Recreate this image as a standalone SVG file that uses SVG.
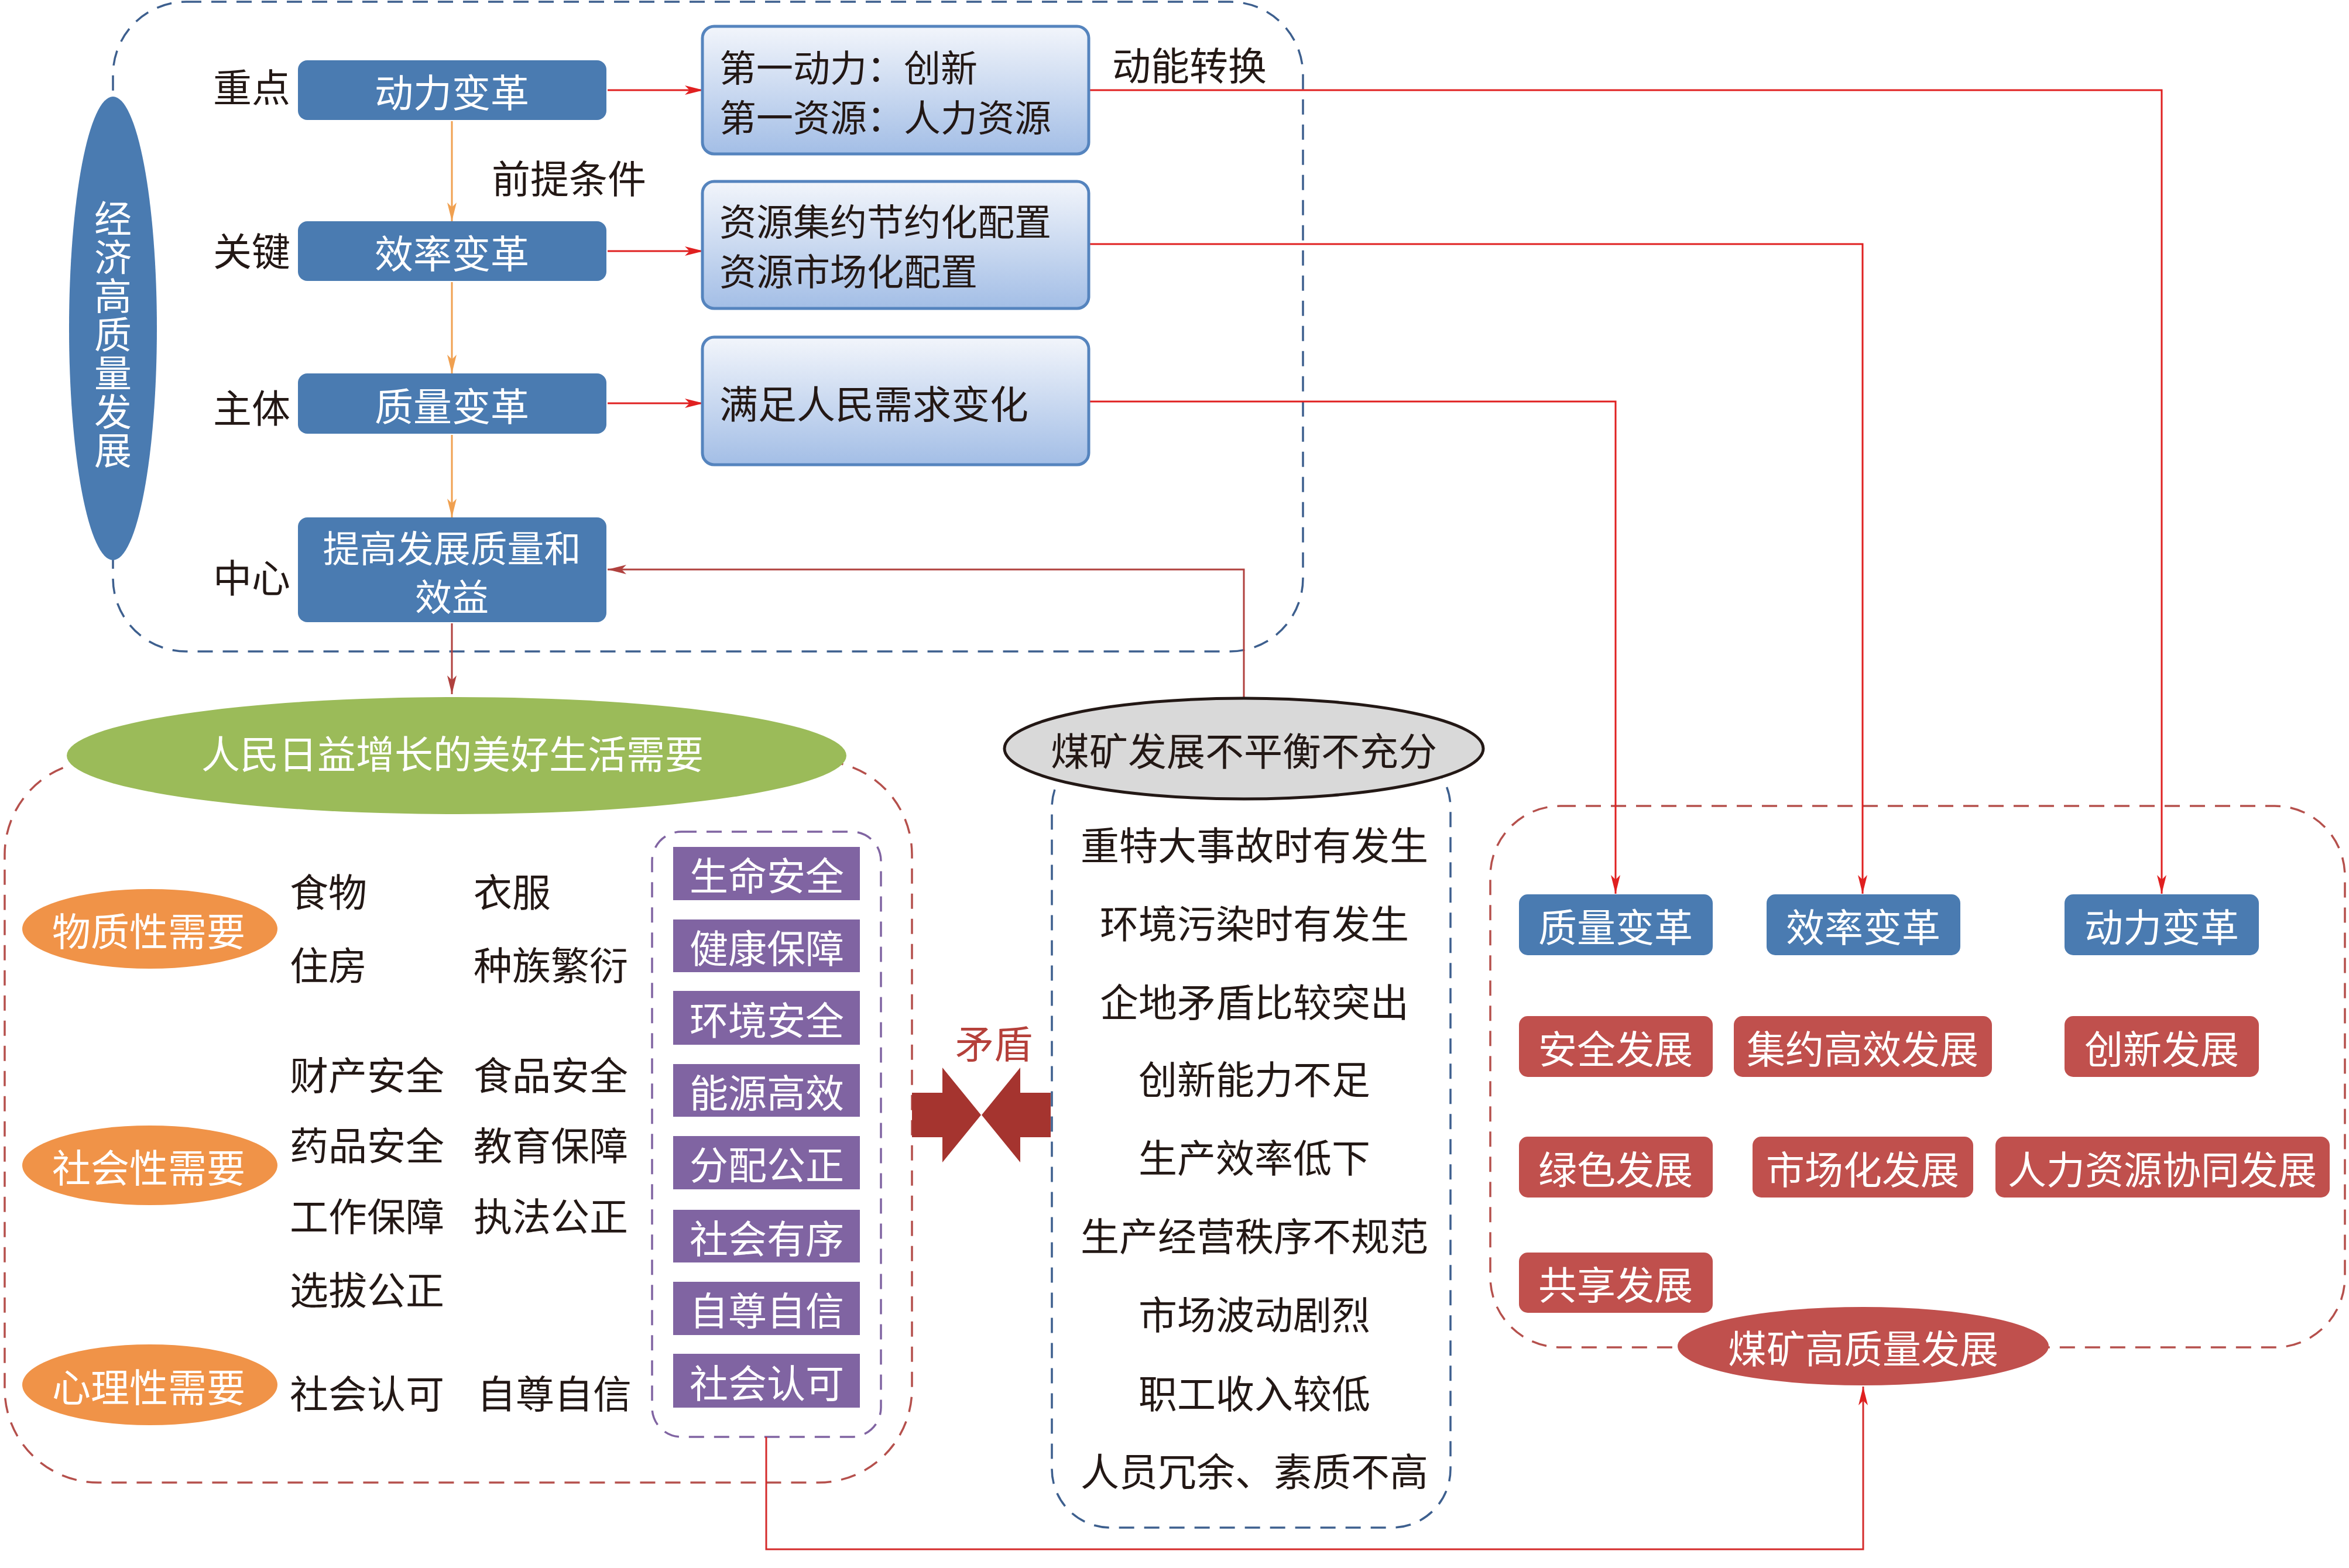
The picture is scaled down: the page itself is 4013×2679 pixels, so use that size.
<svg xmlns="http://www.w3.org/2000/svg" width="4013" height="2679" viewBox="0 0 4013 2679">
<style>
.t{font-family:"Noto Sans CJK SC","Noto Sans",sans-serif;font-size:66px;dominant-baseline:central;}
.m{font-size:63px;}
.v{font-family:"Noto Sans CJK SC","Noto Sans",sans-serif;font-size:64px;writing-mode:vertical-rl;letter-spacing:2px;}
.c{text-anchor:middle;}
.w{fill:#ffffff;}
.k{fill:#231815;}
.dash{fill:none;stroke-width:3.5;stroke-dasharray:26 17;}
.dn{stroke:#3d5f8e;}
.dr{stroke:#b5504c;}
.dp{stroke:#8064a2;}
.bb{fill:#4a7bb1;}
.rb{fill:#c0504d;}
.pb{fill:#8064a2;}
.lb{fill:url(#lg);stroke:#5584be;stroke-width:5;}
.ln{fill:none;stroke-width:3;}
</style>
<defs>
<linearGradient id="lg" x1="0" y1="0" x2="0" y2="1">
<stop offset="0" stop-color="#f2f5fb"/>
<stop offset="1" stop-color="#a3bee6"/>
</linearGradient>
<marker id="ar" markerUnits="userSpaceOnUse" markerWidth="34" markerHeight="18" refX="32" refY="8" orient="auto">
<path d="M0,0 L32,8 L0,16 L8,8 z" fill="#e02020"/>
</marker>
<marker id="ao" markerUnits="userSpaceOnUse" markerWidth="34" markerHeight="18" refX="32" refY="8" orient="auto">
<path d="M0,0 L32,8 L0,16 L8,8 z" fill="#f0a050"/>
</marker>
<marker id="ab" markerUnits="userSpaceOnUse" markerWidth="34" markerHeight="18" refX="32" refY="8" orient="auto">
<path d="M0,0 L32,8 L0,16 L8,8 z" fill="#b0413e"/>
</marker>
</defs>
<rect width="4013" height="2679" fill="#ffffff"/>

<g id="containers">
<rect class="dash dn" x="193" y="3" width="2033" height="1110" rx="125"/>
<rect class="dash dr" x="8" y="1300" width="1550" height="1233" rx="160"/>
<rect class="dash dp" x="1114" y="1421" width="391" height="1034" rx="50"/>
<rect class="dash dn" x="1797" y="1280" width="681" height="1330" rx="100"/>
<rect class="dash dr" x="2546" y="1377" width="1460" height="925" rx="120"/>
</g>

<g id="connectors">
<path class="ln" stroke="#f0a050" d="M772,207 V378" marker-end="url(#ao)"/>
<path class="ln" stroke="#f0a050" d="M772,482 V638" marker-end="url(#ao)"/>
<path class="ln" stroke="#f0a050" d="M772,743 V884" marker-end="url(#ao)"/>
<path class="ln" stroke="#e02020" d="M1038,154 H1202" marker-end="url(#ar)"/>
<path class="ln" stroke="#e02020" d="M1038,429 H1202" marker-end="url(#ar)"/>
<path class="ln" stroke="#e02020" d="M1038,689 H1202" marker-end="url(#ar)"/>
<path class="ln" stroke="#e02020" d="M1860,154 H3693 V1527" marker-end="url(#ar)"/>
<path class="ln" stroke="#e02020" d="M1860,417 H3182 V1527" marker-end="url(#ar)"/>
<path class="ln" stroke="#e02020" d="M1860,686 H2760 V1527" marker-end="url(#ar)"/>
<path class="ln" stroke="#b0413e" d="M2125,1194 V973 H1038" marker-end="url(#ab)"/>
<path class="ln" stroke="#b0413e" d="M772,1065 V1186" marker-end="url(#ab)"/>
<path class="ln" stroke="#d42a2a" d="M1309,2455 V2647 H3183 V2369" marker-end="url(#ar)"/>
</g>

<g id="n-jingji">
<ellipse cx="193" cy="561" rx="75" ry="396" fill="#4a7bb1"/>
<text class="v w" x="193" y="341">经济高质量发展</text>
</g>

<g id="labels-left">
<text class="t k c" x="430" y="145">重点</text>
<text class="t k c" x="430" y="425">关键</text>
<text class="t k c" x="430" y="693">主体</text>
<text class="t k c" x="430" y="983">中心</text>
<text class="t k c" x="972" y="301">前提条件</text>
<text class="t k c" x="2032" y="108">动能转换</text>
</g>

<g id="n-dongli">
<rect class="bb" x="509" y="103" width="527" height="102" rx="16"/>
<text class="t w c" x="772" y="154">动力变革</text>
</g>
<g id="n-xiaolv">
<rect class="bb" x="509" y="378" width="527" height="102" rx="16"/>
<text class="t w c" x="772" y="429">效率变革</text>
</g>
<g id="n-zhiliang">
<rect class="bb" x="509" y="638" width="527" height="103" rx="16"/>
<text class="t w c" x="772" y="690">质量变革</text>
</g>
<g id="n-tigao">
<rect class="bb" x="509" y="884" width="527" height="179" rx="16"/>
<text class="t m w c" x="772" y="932">提高发展质量和</text>
<text class="t m w c" x="772" y="1015">效益</text>
</g>

<g id="n-box1">
<rect class="lb" x="1200" y="45" width="660" height="218" rx="20"/>
<text class="t m k" x="1229" y="111">第一动力：创新</text>
<text class="t m k" x="1229" y="196">第一资源：人力资源</text>
</g>
<g id="n-box2">
<rect class="lb" x="1200" y="310" width="660" height="217" rx="20"/>
<text class="t m k" x="1229" y="374">资源集约节约化配置</text>
<text class="t m k" x="1229" y="459">资源市场化配置</text>
</g>
<g id="n-box3">
<rect class="lb" x="1200" y="576" width="660" height="218" rx="20"/>
<text class="t k" x="1229" y="686">满足人民需求变化</text>
</g>

<g id="n-renmin">
<ellipse cx="780" cy="1291" rx="666" ry="100" fill="#9bbb59"/>
<text class="t w c" x="773" y="1284">人民日益增长的美好生活需要</text>
</g>

<g id="n-wuzhi">
<ellipse cx="256" cy="1587" rx="218" ry="68" fill="#f09348"/>
<text class="t w c" x="254" y="1587">物质性需要</text>
</g>
<g id="n-shehui">
<ellipse cx="256" cy="1991" rx="218" ry="68" fill="#f09348"/>
<text class="t w c" x="254" y="1991">社会性需要</text>
</g>
<g id="n-xinli">
<ellipse cx="256" cy="2366" rx="218" ry="69" fill="#f09348"/>
<text class="t w c" x="254" y="2366">心理性需要</text>
</g>

<g id="needs-text">
<text class="t k" x="495" y="1520">食物</text>
<text class="t k" x="809" y="1520">衣服</text>
<text class="t k" x="495" y="1645">住房</text>
<text class="t k" x="809" y="1645">种族繁衍</text>
<text class="t k" x="495" y="1833">财产安全</text>
<text class="t k" x="809" y="1833">食品安全</text>
<text class="t k" x="495" y="1953">药品安全</text>
<text class="t k" x="809" y="1953">教育保障</text>
<text class="t k" x="495" y="2074">工作保障</text>
<text class="t k" x="809" y="2074">执法公正</text>
<text class="t k" x="495" y="2200">选拔公正</text>
<text class="t k" x="495" y="2377">社会认可</text>
<text class="t k" x="815" y="2377">自尊自信</text>
</g>

<g id="n-purple">
<rect class="pb" x="1150" y="1447" width="319" height="91"/>
<text class="t w c" x="1310" y="1492">生命安全</text>
<rect class="pb" x="1150" y="1571" width="319" height="90"/>
<text class="t w c" x="1310" y="1616">健康保障</text>
<rect class="pb" x="1150" y="1693" width="319" height="92"/>
<text class="t w c" x="1310" y="1739">环境安全</text>
<rect class="pb" x="1150" y="1818" width="319" height="90"/>
<text class="t w c" x="1310" y="1863">能源高效</text>
<rect class="pb" x="1150" y="1941" width="319" height="91"/>
<text class="t w c" x="1310" y="1986">分配公正</text>
<rect class="pb" x="1150" y="2067" width="319" height="90"/>
<text class="t w c" x="1310" y="2112">社会有序</text>
<rect class="pb" x="1150" y="2190" width="319" height="91"/>
<text class="t w c" x="1310" y="2235">自尊自信</text>
<rect class="pb" x="1150" y="2313" width="319" height="92"/>
<text class="t w c" x="1310" y="2359">社会认可</text>
</g>

<g id="n-maodun">
<path d="M1558,1867 H1610 V1824 L1676,1905 L1610,1986 V1943 H1558 z" fill="#a5342f"/>
<path d="M1795,1867 H1743 V1824 L1677,1905 L1743,1986 V1943 H1795 z" fill="#a5342f"/>
<text class="t c" x="1698" y="1779" fill="#b5403a">矛盾</text>
</g>

<g id="n-meikuang">
<ellipse cx="2125" cy="1279" rx="409" ry="86" fill="#d9d9d9" stroke="#231815" stroke-width="5"/>
<text class="t k c" x="2125" y="1279">煤矿发展不平衡不充分</text>
</g>

<g id="problems-text">
<text class="t k c" x="2143" y="1440">重特大事故时有发生</text>
<text class="t k c" x="2143" y="1574">环境污染时有发生</text>
<text class="t k c" x="2143" y="1708">企地矛盾比较突出</text>
<text class="t k c" x="2143" y="1840">创新能力不足</text>
<text class="t k c" x="2143" y="1974">生产效率低下</text>
<text class="t k c" x="2143" y="2108">生产经营秩序不规范</text>
<text class="t k c" x="2143" y="2242">市场波动剧烈</text>
<text class="t k c" x="2143" y="2377">职工收入较低</text>
<text class="t k c" x="2143" y="2510">人员冗余、素质不高</text>
</g>

<g id="n-r-zhiliang">
<rect class="bb" x="2595" y="1528" width="331" height="104" rx="15"/>
<text class="t w c" x="2760" y="1580">质量变革</text>
</g>
<g id="n-r-xiaolv">
<rect class="bb" x="3018" y="1528" width="331" height="104" rx="15"/>
<text class="t w c" x="3183" y="1580">效率变革</text>
</g>
<g id="n-r-dongli">
<rect class="bb" x="3527" y="1528" width="332" height="104" rx="15"/>
<text class="t w c" x="3693" y="1580">动力变革</text>
</g>
<g id="n-anquan">
<rect class="rb" x="2595" y="1736" width="331" height="104" rx="15"/>
<text class="t w c" x="2760" y="1788">安全发展</text>
</g>
<g id="n-jiyue">
<rect class="rb" x="2962" y="1736" width="441" height="104" rx="15"/>
<text class="t w c" x="3182" y="1788">集约高效发展</text>
</g>
<g id="n-chuangxin">
<rect class="rb" x="3527" y="1736" width="332" height="104" rx="15"/>
<text class="t w c" x="3693" y="1788">创新发展</text>
</g>
<g id="n-lvse">
<rect class="rb" x="2595" y="1942" width="331" height="104" rx="15"/>
<text class="t w c" x="2760" y="1994">绿色发展</text>
</g>
<g id="n-shichang">
<rect class="rb" x="2994" y="1942" width="377" height="104" rx="15"/>
<text class="t w c" x="3182" y="1994">市场化发展</text>
</g>
<g id="n-renli">
<rect class="rb" x="3409" y="1942" width="571" height="104" rx="15"/>
<text class="t w c" x="3694" y="1994">人力资源协同发展</text>
</g>
<g id="n-gongxiang">
<rect class="rb" x="2595" y="2140" width="331" height="103" rx="15"/>
<text class="t w c" x="2760" y="2191">共享发展</text>
</g>
<g id="n-gaozhiliang">
<ellipse cx="3183" cy="2300" rx="317" ry="67" fill="#c0504d"/>
<text class="t w c" x="3183" y="2300">煤矿高质量发展</text>
</g>
</svg>
